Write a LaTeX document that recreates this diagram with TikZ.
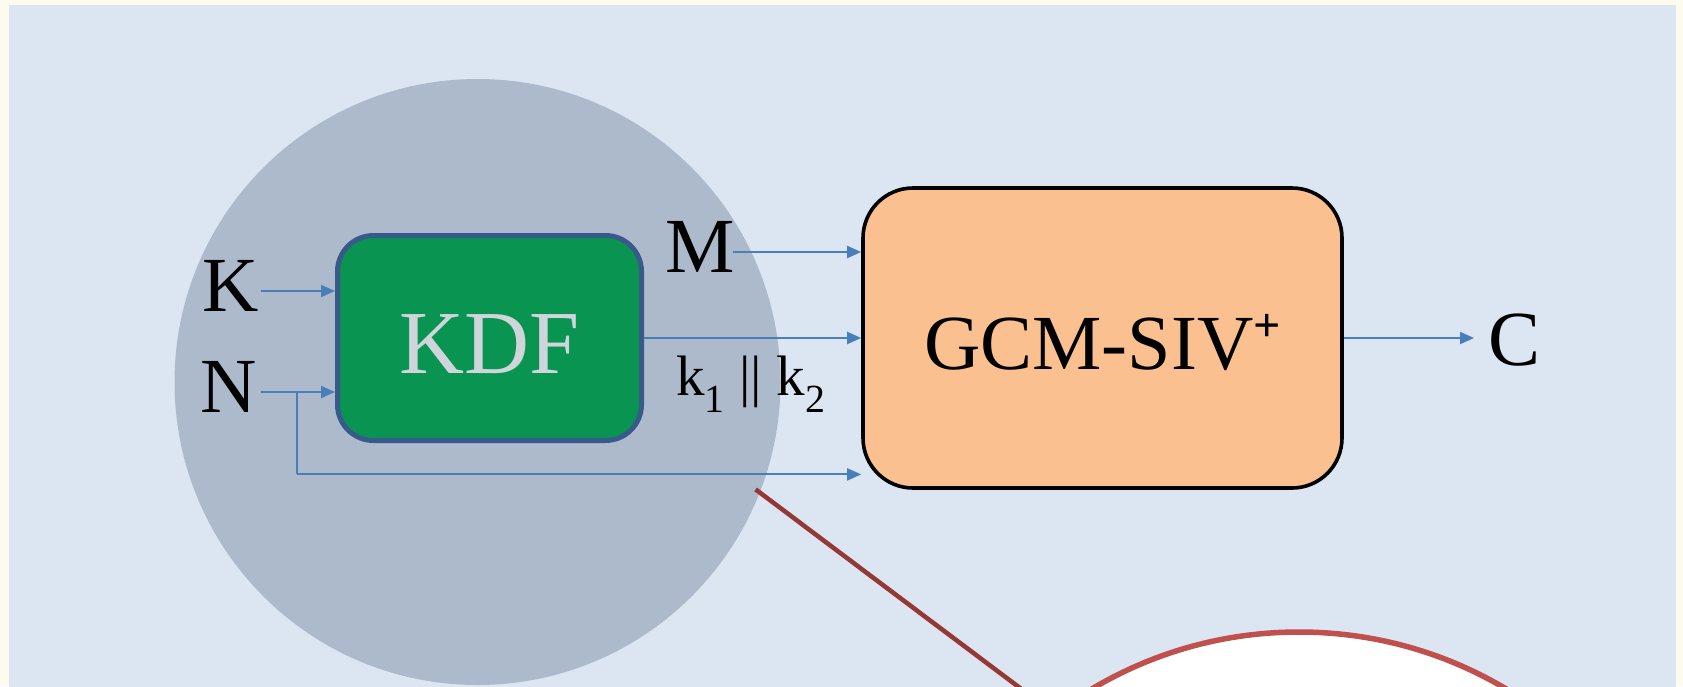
\documentclass[tikz,border=0pt]{standalone}
\usepackage{fontspec}
\setmainfont{Liberation Serif}
\usetikzlibrary{arrows.meta}
\definecolor{cream}{HTML}{FCFBEE}
\definecolor{bgblue}{HTML}{DCE6F2}
\definecolor{circ}{HTML}{ADBACC}
\definecolor{kdfgreen}{HTML}{0A9452}
\definecolor{kdfborder}{HTML}{375A8A}
\definecolor{kdftext}{HTML}{D0D5DC}
\definecolor{gcmfill}{HTML}{FAC090}
\definecolor{arrowblue}{HTML}{4A7EBB}
\definecolor{darkred}{HTML}{953735}
\definecolor{redring}{HTML}{C0504D}
\begin{document}
\begin{tikzpicture}[x=1pt,y=-1pt,
  arr/.style={draw=arrowblue, line width=2pt, -{Triangle[length=14pt,width=12pt]}},
  kdfbox/.style={draw=kdfborder, line width=5pt, fill=kdfgreen, rounded corners=36pt,
    minimum width=304pt, minimum height=205pt, inner sep=0pt, text=kdftext,
    font=\fontsize{90}{92}\selectfont, text height=71pt, text depth=0pt},
  gcmbox/.style={draw=black, line width=3.6pt, fill=gcmfill, rounded corners=50pt,
    minimum width=479pt, minimum height=300pt, inner sep=0pt, text=black,
    font=\fontsize{78}{80}\selectfont, text height=63pt, text depth=0pt},
  lbl/.style={inner sep=0pt, anchor=base, text=black, font=\fontsize{78}{80}\selectfont},
]
\useasboundingbox (0,0) rectangle (1683,686);
\clip (0,0) rectangle (1683,686);
\fill[cream] (0,0) rectangle (1683,686);
\fill[bgblue] (9,5) rectangle (1676,700);
\fill[circ] (477.5,382) circle[radius=303];
\draw[darkred, line width=4.5pt] (755.6,489.4) -- (1036,700);
\draw[redring, line width=5.5pt, fill=white] (1299,1037) circle[radius=405];

\node[kdfbox] (kdf) at (489.5,338) {KDF};
\node[gcmbox] (gcm) at (1102.5,338) {GCM-SIV\raisebox{0.36em}{\fontsize{48}{48}\selectfont\bfseries +}};

\node[lbl] (K) at (231,311) {K};
\node[lbl] (N) at (229,412) {N};
\node[lbl] (M) at (700,272.6) {M};
\node[lbl] (C) at (1514,365) {C};
\node[lbl, font=\fontsize{57}{60}\selectfont] (keys) at (751,395) {k\textsubscript{1} || k\textsubscript{2}};

\coordinate (Kin) at (261,291);
\coordinate (Nin) at (261,392);
\coordinate (Nsplit) at (297,392);
\coordinate (Nbot) at (297,474.4);
\coordinate (Mout) at (733,252);
\coordinate (Cin) at (1474,339);

\draw[arr] (Kin) -- (kdf.west |- Kin);
\draw[arr] (Nin) -- (kdf.west |- Nin);
\draw[arr, -] (Nsplit) -- (Nbot);
\draw[arr] (Nbot) -- (gcm.west |- Nbot);
\draw[arr] (Mout) -- (gcm.west |- Mout);
\draw[arr] (kdf.east) -- (gcm.west |- kdf.east);
\draw[arr] (gcm.east) -- (gcm.east -| Cin);
\end{tikzpicture}
\end{document}
